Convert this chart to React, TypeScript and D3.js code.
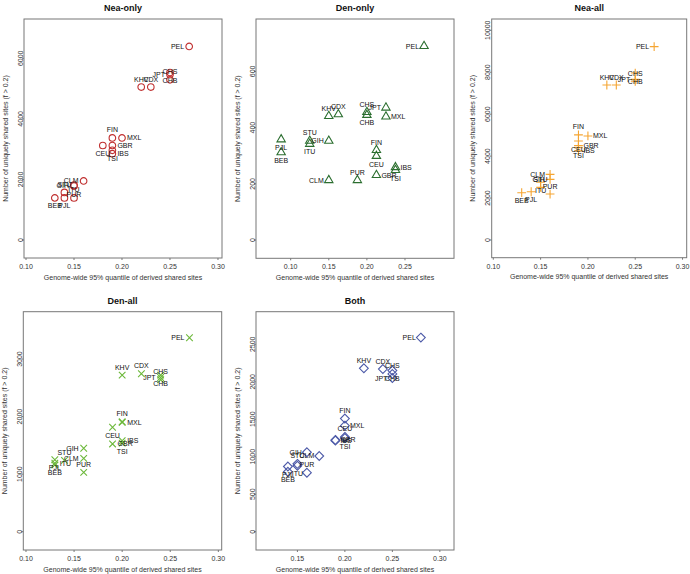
import React from "react";
import * as d3 from "d3";

const pops = ["PEL","KHV","CDX","CHS","CHB","JPT","FIN","MXL","CEU","GBR","IBS","TSI","GIH","CLM","PUR","STU","ITU","PJL","BEB"];

// Nea-only
const neaOnlyX = [0.27,0.22,0.23,0.25,0.25,0.25,0.19,0.20,0.18,0.19,0.19,0.19,0.15,0.16,0.15,0.14,0.15,0.14,0.13];
const neaOnlyY = [6390,5050,5050,5290,5530,5460,3370,3370,3120,3120,2850,2960,1810,1950,1780,1570,1390,1390,1390];
const neaOnlyPos = ["L","T","T","T","B","L","T","R","B","R","R","B","L","L","B","T","T","B","B"];

// Den-only
const denOnlyX = [0.275,0.15,0.1625,0.20,0.20,0.225,0.2125,0.225,0.2125,0.2125,0.2375,0.2375,0.15,0.15,0.1875,0.125,0.125,0.0875,0.0875];
const denOnlyY = [690,441,447,455,445,471,320,439,299,231,259,249,353,213,213,353,342,358,312];
const denOnlyPos = ["L","T","T","T","B","L","T","R","B","R","R","B","L","L","T","T","B","B","B"];

// Nea-all
const neaAllX = [0.27,0.22,0.23,0.25,0.25,0.25,0.19,0.20,0.19,0.19,0.19,0.19,0.16,0.16,0.16,0.15,0.15,0.14,0.13];
const neaAllY = [9220,7390,7390,7570,7960,7660,5010,4960,4720,4500,4250,4400,2890,3130,2190,2510,2750,2300,2255];
const neaAllPos = ["L","T","T","T","B","L","T","R","B","R","R","B","L","L","T","T","B","B","B"];

// Den-all
const denAllX = [0.27,0.20,0.22,0.24,0.24,0.24,0.20,0.20,0.19,0.19,0.20,0.20,0.16,0.16,0.16,0.14,0.13,0.13,0.13];
const denAllY = [3370,2720,2745,2640,2720,2680,1910,1900,1815,1525,1580,1540,1450,1275,1030,1240,1190,1250,1160];
const denAllPos = ["L","T","T","T","B","L","T","R","B","R","R","B","L","L","T","T","R","B","B"];

// Both
const bothX = [0.28,0.22,0.24,0.25,0.25,0.25,0.20,0.20,0.20,0.19,0.19,0.20,0.16,0.173,0.16,0.15,0.15,0.14,0.14];
const bothY = [2590,2180,2170,2105,2150,2050,1510,1415,1265,1225,1215,1250,1060,1010,787,905,880,870,800];
const bothPos = ["L","T","T","T","B","L","T","R","T","R","R","B","L","L","T","T","B","B","B"];

const xTicksA = [0.1,0.15,0.2,0.25,0.3];
const xTicksDenOnly = [0.1,0.15,0.2,0.25];
const xTicksBoth = [0.15,0.2,0.25,0.3];
const yTicksNeaOnly = [0,2000,4000,6000];
const yTicksDenOnly = [0,200,400,600];
const yTicksNeaAll = [0,2000,4000,6000,8000,10000];
const yTicksDenAll = [0,1000,2000,3000];
const yTicksBoth = [0,500,1000,1500,2000,2500];

const FONT = "'Liberation Sans', Arial, Helvetica, sans-serif";
const XTITLE = "Genome-wide 95% quantile of derived shared sites";
const YTITLE = "Number of uniquely shared sites (f > 0.2)";

type Box = { x0: number; x1: number; y0: number; y1: number };

function markerPath(kind: string, x: number, y: number): string {
  if (kind === "circle") {
    const r = 3.3;
    return `M${x - r},${y}A${r},${r} 0 1,0 ${x + r},${y}A${r},${r} 0 1,0 ${x - r},${y}Z`;
  }
  if (kind === "triangle") {
    const r0 = 3.1;
    const top = 1.5551 * r0, half = 1.3468 * r0, bot = 0.7776 * r0;
    return `M${x},${y - top}L${x + half},${y + bot}L${x - half},${y + bot}Z`;
  }
  if (kind === "plus") {
    const h = 4.4;
    return `M${x - h},${y}H${x + h}M${x},${y - h}V${y + h}`;
  }
  if (kind === "cross") {
    const h = 3.3;
    return `M${x - h},${y - h}L${x + h},${y + h}M${x - h},${y + h}L${x + h},${y - h}`;
  }
  const h = 4.4;
  return `M${x},${y - h}L${x + h},${y}L${x},${y + h}L${x - h},${y}Z`;
}

function Panel(props: {
  title: string; box: Box; xDomain: number[]; yDomain: number[];
  xTicks: number[]; yTicks: number[]; xs: number[]; ys: number[]; pos: string[];
  marker: string; color: string;
}) {
  const { title, box, xDomain, yDomain, xTicks, yTicks, xs, ys, pos, marker, color } = props;
  const sx = d3.scaleLinear().domain(xDomain).range([box.x0, box.x1]);
  const sy = d3.scaleLinear().domain(yDomain).range([box.y1, box.y0]);
  const fmtX = d3.format(".2f");
  const cx = (box.x0 + box.x1) / 2;
  const cy = (box.y0 + box.y1) / 2;
  const axisCol = "#333";
  const textCol = "#111";
  return (
    <g>
      <text x={cx} y={box.y0 - 8} textAnchor="middle" fontFamily={FONT} fontWeight="bold" fontSize={9} fill="#111">{title}</text>
      <rect x={box.x0} y={box.y0} width={box.x1 - box.x0} height={box.y1 - box.y0} fill="none" stroke="#777" strokeWidth={1} />
      {xTicks.map((t) => (
        <g key={"xt" + t}>
          <line x1={sx(t)} x2={sx(t)} y1={box.y1} y2={box.y1 + 2} stroke="#777" strokeWidth={1} />
          <text x={sx(t)} y={box.y1 + 11} textAnchor="middle" fontFamily={FONT} fontSize={7} fill={axisCol}>{fmtX(t)}</text>
        </g>
      ))}
      {yTicks.map((t) => (
        <g key={"yt" + t}>
          <line x1={box.x0 - 2} x2={box.x0} y1={sy(t)} y2={sy(t)} stroke="#777" strokeWidth={1} />
          <text transform={`translate(${box.x0 - 1.5},${sy(t)}) rotate(-90)`} textAnchor="middle" fontFamily={FONT} fontSize={7} fill={axisCol}>{String(t)}</text>
        </g>
      ))}
      <text x={cx} y={box.y1 + 21.5} textAnchor="middle" fontFamily={FONT} fontSize={7} fill={axisCol}>{XTITLE}</text>
      <text transform={`translate(${box.x0 - 16.5},${cy}) rotate(-90)`} textAnchor="middle" fontFamily={FONT} fontSize={7} fill={axisCol}>{YTITLE}</text>
      {xs.map((v, i) => (
        <path key={"m" + i} d={markerPath(marker, sx(v), sy(ys[i]))} fill="none" stroke={color} strokeWidth={1.1} />
      ))}
      {xs.map((v, i) => {
        const px = sx(v), py = sy(ys[i]);
        const p = pos[i];
        let tx = px, ty = py + 2.5, anchor = "middle";
        if (p === "T") { ty = py - 5.5; }
        else if (p === "B") { ty = py + 10.5; }
        else if (p === "L") { tx = px - 5; anchor = "end"; }
        else { tx = px + 5; anchor = "start"; }
        return (
          <text key={"l" + i} x={tx} y={ty} textAnchor={anchor} fontFamily={FONT} fontSize={7} fill={textCol}>{pops[i]}</text>
        );
      })}
    </g>
  );
}

export default function App() {
  return (
    <svg width={690} height={574} style={{ position: "absolute", left: 0, top: 0, background: "#fff" }}>
      <rect x={0} y={0} width={690} height={574} fill="#fff" />
      <Panel title="Nea-only" box={{ x0: 24, x1: 222, y0: 19, y1: 258 }} xDomain={[0.0979, 0.3042]} yDomain={[-594, 7297]}
        xTicks={xTicksA} yTicks={yTicksNeaOnly} xs={neaOnlyX} ys={neaOnlyY} pos={neaOnlyPos} marker="circle" color="#C03030" />
      <Panel title="Den-only" box={{ x0: 256, x1: 454, y0: 19, y1: 258.3 }} xDomain={[0.0545, 0.3143]} yDomain={[-65, 786.5]}
        xTicks={xTicksDenOnly} yTicks={yTicksDenOnly} xs={denOnlyX} ys={denOnlyY} pos={denOnlyPos} marker="triangle" color="#2B6E2F" />
      <Panel title="Nea-all" box={{ x0: 491.7, x1: 686.7, y0: 19, y1: 257.7 }} xDomain={[0.0983, 0.3044]} yDomain={[-844, 10537]}
        xTicks={xTicksA} yTicks={yTicksNeaAll} xs={neaAllX} ys={neaAllY} pos={neaAllPos} marker="plus" color="#F5A532" />
      <Panel title="Den-all" box={{ x0: 23.3, x1: 221.7, y0: 311.7, y1: 550 }} xDomain={[0.0972, 0.3035]} yDomain={[-318, 3823]}
        xTicks={xTicksA} yTicks={yTicksDenAll} xs={denAllX} ys={denAllY} pos={denAllPos} marker="cross" color="#6CB83A" />
      <Panel title="Both" box={{ x0: 256, x1: 454, y0: 311.7, y1: 550 }} xDomain={[0.1064, 0.3149]} yDomain={[-244, 2935]}
        xTicks={xTicksBoth} yTicks={yTicksBoth} xs={bothX} ys={bothY} pos={bothPos} marker="diamond" color="#4D5AA8" />
    </svg>
  );
}
